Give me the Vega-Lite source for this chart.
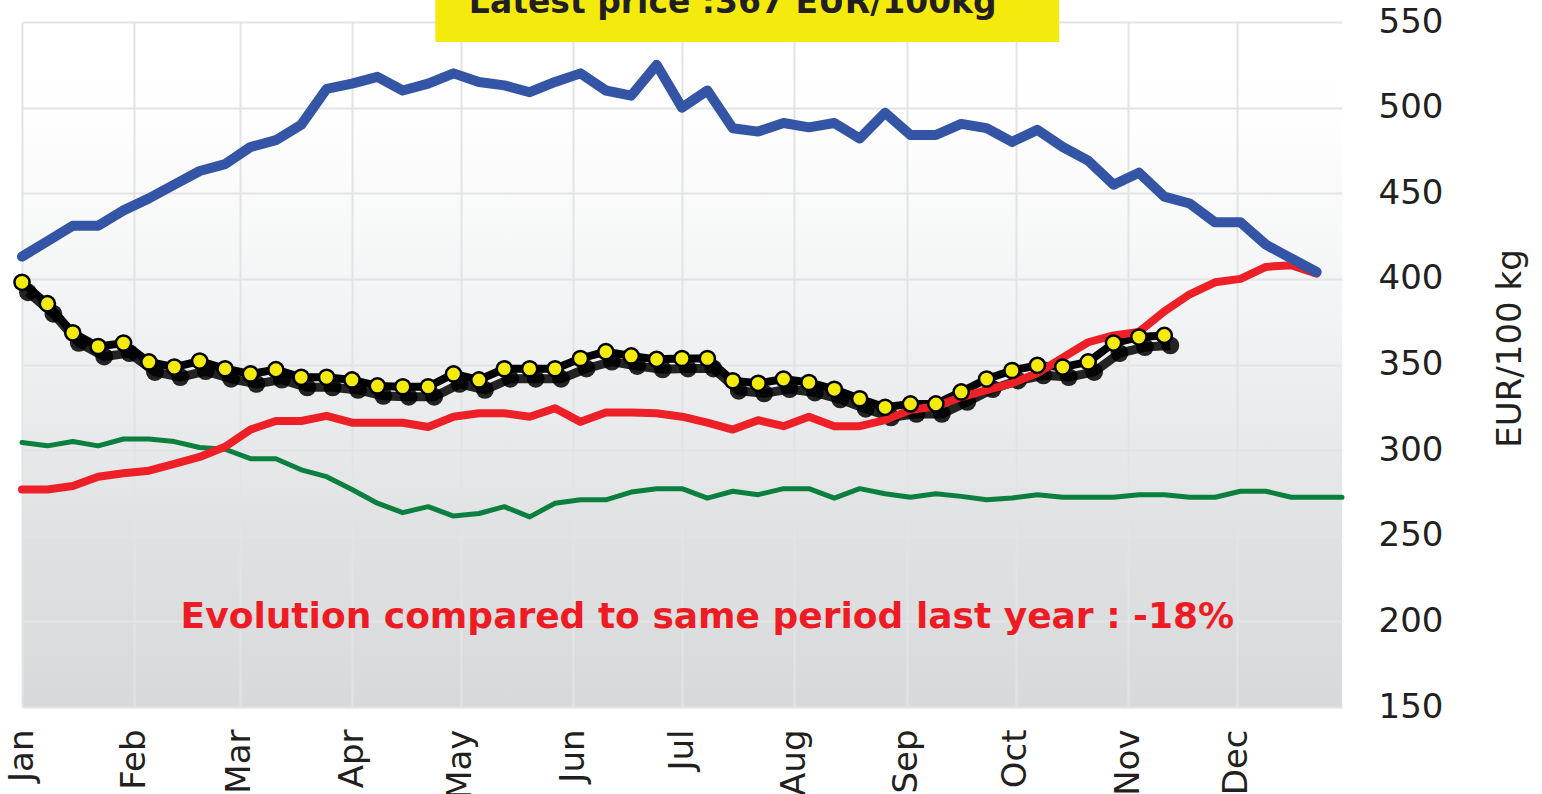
{
  "$schema": "https://vega.github.io/schema/vega-lite/v6.json",
  "width": 1320,
  "height": 685,
  "autosize": {"type": "none"},
  "padding": {"left": 22, "top": 22, "right": 200, "bottom": 87},
  "background": "#ffffff",
  "view": {
    "stroke": null,
    "fill": {
      "gradient": "linear", "x1": 0, "y1": 0, "x2": 0, "y2": 1,
      "stops": [
        {"offset": 0, "color": "#ffffff"},
        {"offset": 0.15, "color": "#fefefe"},
        {"offset": 0.45, "color": "#f1f2f3"},
        {"offset": 0.75, "color": "#e0e1e3"},
        {"offset": 1, "color": "#d8d9db"}
      ]
    }
  },
  "config": {
    "font": "DejaVu Sans",
    "axis": {
      "grid": true, "gridColor": "#e2e3e5", "gridWidth": 2,
      "domain": false, "ticks": false, "tickSize": 0,
      "labelFont": "DejaVu Sans", "labelFontSize": 34, "labelColor": "#231f20",
      "titleFont": "DejaVu Sans", "titleFontSize": 34, "titleFontWeight": "normal", "titleColor": "#231f20"
    }
  },
  "datasets": {
    "weekly": [
      {"date": "2024-01-01", "blue": 413, "red": 277, "green": 304.5, "current": 398},
      {"date": "2024-01-08", "blue": 422, "red": 277, "green": 302.5, "current": 385.5},
      {"date": "2024-01-15", "blue": 431, "red": 279, "green": 305, "current": 368.5},
      {"date": "2024-01-22", "blue": 431, "red": 284.5, "green": 302.5, "current": 360.5},
      {"date": "2024-01-29", "blue": 440, "red": 286.5, "green": 306.5, "current": 362.5},
      {"date": "2024-02-05", "blue": 447, "red": 288, "green": 306.5, "current": 351.5},
      {"date": "2024-02-12", "blue": 455, "red": 292, "green": 305, "current": 348.5},
      {"date": "2024-02-19", "blue": 463, "red": 296, "green": 301.5, "current": 352},
      {"date": "2024-02-26", "blue": 467, "red": 302, "green": 300.5, "current": 347.5},
      {"date": "2024-03-04", "blue": 477, "red": 312, "green": 295, "current": 344.5},
      {"date": "2024-03-11", "blue": 481, "red": 317, "green": 295, "current": 347},
      {"date": "2024-03-18", "blue": 490, "red": 317, "green": 288.5, "current": 342.5},
      {"date": "2024-03-25", "blue": 511, "red": 320, "green": 284.5, "current": 342.5},
      {"date": "2024-04-01", "blue": 514, "red": 316, "green": 277, "current": 341},
      {"date": "2024-04-08", "blue": 518, "red": 316, "green": 269, "current": 337.5},
      {"date": "2024-04-15", "blue": 510, "red": 316, "green": 263.5, "current": 337},
      {"date": "2024-04-22", "blue": 514, "red": 313.5, "green": 267, "current": 337},
      {"date": "2024-04-29", "blue": 520, "red": 319.5, "green": 261.5, "current": 344.5},
      {"date": "2024-05-06", "blue": 515, "red": 321.5, "green": 263, "current": 341},
      {"date": "2024-05-13", "blue": 513, "red": 321.5, "green": 267, "current": 347.5},
      {"date": "2024-05-20", "blue": 509, "red": 319.5, "green": 261, "current": 347.5},
      {"date": "2024-05-27", "blue": 515, "red": 324.5, "green": 269, "current": 347.5},
      {"date": "2024-06-03", "blue": 520, "red": 316.5, "green": 271, "current": 353.5},
      {"date": "2024-06-10", "blue": 510, "red": 322, "green": 271, "current": 357.5},
      {"date": "2024-06-17", "blue": 507, "red": 322, "green": 275.5, "current": 355},
      {"date": "2024-06-24", "blue": 525, "red": 321.5, "green": 277.5, "current": 353},
      {"date": "2024-07-01", "blue": 500, "red": 319.5, "green": 277.5, "current": 353.5},
      {"date": "2024-07-08", "blue": 510, "red": 316, "green": 272, "current": 353.5},
      {"date": "2024-07-15", "blue": 488, "red": 312, "green": 276, "current": 340.5},
      {"date": "2024-07-22", "blue": 486, "red": 317.5, "green": 274, "current": 339},
      {"date": "2024-07-29", "blue": 491, "red": 314, "green": 277.5, "current": 341.5},
      {"date": "2024-08-05", "blue": 488.5, "red": 319.5, "green": 277.5, "current": 339.5},
      {"date": "2024-08-12", "blue": 491, "red": 314, "green": 272, "current": 335.5},
      {"date": "2024-08-19", "blue": 482, "red": 314, "green": 277.5, "current": 330},
      {"date": "2024-08-26", "blue": 497, "red": 317.5, "green": 274.5, "current": 325},
      {"date": "2024-09-02", "blue": 484, "red": 323.5, "green": 272.5, "current": 327},
      {"date": "2024-09-09", "blue": 484, "red": 325.5, "green": 274.5, "current": 327},
      {"date": "2024-09-16", "blue": 490.5, "red": 331, "green": 273, "current": 334},
      {"date": "2024-09-23", "blue": 488, "red": 335, "green": 271, "current": 341.5},
      {"date": "2024-09-30", "blue": 480, "red": 339, "green": 272, "current": 346.5},
      {"date": "2024-10-07", "blue": 487, "red": 345, "green": 274, "current": 349.5},
      {"date": "2024-10-14", "blue": 477, "red": 354, "green": 272.5, "current": 348.5},
      {"date": "2024-10-21", "blue": 469, "red": 363, "green": 272.5, "current": 351.5},
      {"date": "2024-10-28", "blue": 455, "red": 367, "green": 272.5, "current": 362.5},
      {"date": "2024-11-04", "blue": 462, "red": 369, "green": 274, "current": 366},
      {"date": "2024-11-11", "blue": 448, "red": 381, "green": 274, "current": 367},
      {"date": "2024-11-18", "blue": 444, "red": 391, "green": 272.5},
      {"date": "2024-11-25", "blue": 433, "red": 398, "green": 272.5},
      {"date": "2024-12-02", "blue": 433, "red": 400, "green": 276},
      {"date": "2024-12-09", "blue": 420, "red": 407, "green": 276},
      {"date": "2024-12-16", "blue": 412, "red": 408, "green": 272.5},
      {"date": "2024-12-23", "blue": 404, "red": 403, "green": 272.5},
      {"date": "2024-12-30", "green": 272.5}
    ]
  },
  "layer": [
    {
      "data": {"name": "weekly"},
      "mark": {"type": "line", "color": "#0b7f3e", "strokeWidth": 5, "strokeCap": "round", "strokeJoin": "round"},
      "encoding": {
        "x": {
          "field": "date", "type": "temporal",
          "scale": {"type": "utc", "domain": [{"year": 2024, "month": 1, "date": 1, "utc": true}, {"year": 2024, "month": 12, "date": 30, "utc": true}], "nice": false},
          "axis": {"title": null, "labelExpr": "utcFormat(datum.value, '%b')", "tickCount": {"interval": "month", "step": 1}, "labelAngle": -90, "labelPadding": 22, "labelOverlap": false, "labelBound": false, "labelFlush": false}
        },
        "y": {
          "field": "green", "type": "quantitative",
          "scale": {"domain": [150, 550], "nice": false, "zero": false},
          "axis": {"orient": "right", "values": [150, 200, 250, 300, 350, 400, 450, 500, 550], "labelPadding": 36, "title": "EUR/100 kg", "titleAngle": -90, "titleX": 168, "titleY": 326, "titleAlign": "center", "titleBaseline": "middle"}
        }
      }
    },
    {
      "data": {"name": "weekly"},
      "mark": {"type": "line", "color": "#000000", "strokeWidth": 9, "opacity": 0.85, "xOffset": 6, "yOffset": 10, "strokeJoin": "round"},
      "encoding": {"x": {"field": "date", "type": "temporal"}, "y": {"field": "current", "type": "quantitative"}}
    },
    {
      "data": {"name": "weekly"},
      "mark": {"type": "point", "filled": true, "color": "#000000", "size": 320, "opacity": 0.85, "xOffset": 6, "yOffset": 10},
      "encoding": {"x": {"field": "date", "type": "temporal"}, "y": {"field": "current", "type": "quantitative"}}
    },
    {
      "data": {"name": "weekly"},
      "mark": {"type": "line", "color": "#000000", "strokeWidth": 8, "strokeJoin": "round"},
      "encoding": {"x": {"field": "date", "type": "temporal"}, "y": {"field": "current", "type": "quantitative"}}
    },
    {
      "data": {"name": "weekly"},
      "mark": {"type": "line", "color": "#ed2027", "strokeWidth": 8, "strokeCap": "round", "strokeJoin": "round"},
      "encoding": {"x": {"field": "date", "type": "temporal"}, "y": {"field": "red", "type": "quantitative"}}
    },
    {
      "data": {"name": "weekly"},
      "mark": {"type": "line", "color": "#3454a5", "strokeWidth": 10, "strokeCap": "round", "strokeJoin": "round"},
      "encoding": {"x": {"field": "date", "type": "temporal"}, "y": {"field": "blue", "type": "quantitative"}}
    },
    {
      "data": {"name": "weekly"},
      "mark": {"type": "point", "filled": true, "fill": "#f4eb0c", "stroke": "#000000", "strokeWidth": 2.5, "size": 230, "opacity": 1},
      "encoding": {"x": {"field": "date", "type": "temporal"}, "y": {"field": "current", "type": "quantitative"}}
    },
    {
      "data": {"values": [{"note": "box"}]},
      "mark": {"type": "rect", "color": "#f4eb0c", "opacity": 1},
      "encoding": {
        "x": {"datum": {"year": 2024, "month": 4, "date": 24, "utc": true}, "type": "temporal"},
        "x2": {"datum": {"year": 2024, "month": 10, "date": 13, "utc": true}},
        "y": {"datum": 538.3, "type": "quantitative"},
        "y2": {"datum": 600}
      }
    },
    {
      "data": {"values": [{"note": "Latest price :367 EUR/100kg"}]},
      "mark": {"type": "text", "font": "DejaVu Sans", "fontWeight": "bold", "fontSize": 33, "color": "#231f20", "align": "center", "baseline": "alphabetic"},
      "encoding": {
        "text": {"field": "note"},
        "x": {"datum": {"year": 2024, "month": 7, "date": 15, "utc": true}, "type": "temporal"},
        "y": {"datum": 555.5, "type": "quantitative"}
      }
    },
    {
      "data": {"values": [{"note": "Evolution compared to same period last year : -18%"}]},
      "mark": {"type": "text", "font": "DejaVu Sans", "fontWeight": "bold", "fontSize": 36, "color": "#ed1c24", "align": "center", "baseline": "alphabetic"},
      "encoding": {
        "text": {"field": "note"},
        "x": {"datum": {"year": 2024, "month": 7, "date": 8, "utc": true}, "type": "temporal"},
        "y": {"datum": 196, "type": "quantitative"}
      }
    }
  ]
}
